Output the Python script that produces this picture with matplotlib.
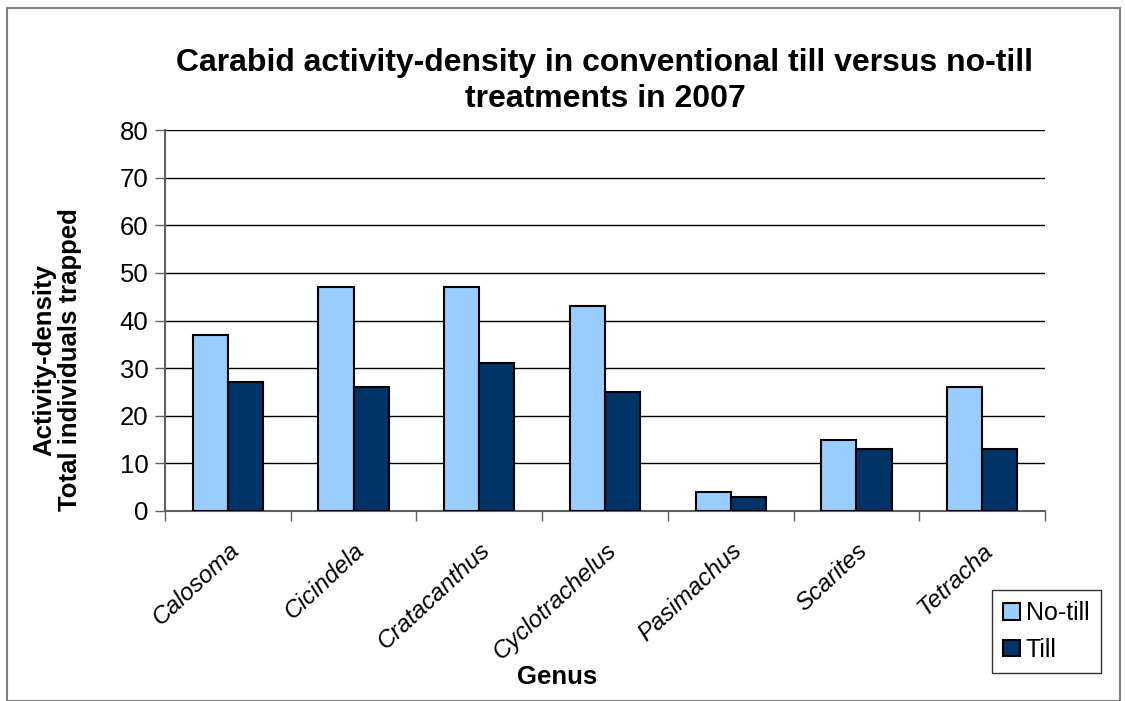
import matplotlib
matplotlib.use("Agg")
import matplotlib.pyplot as plt
import numpy as np
from matplotlib.patches import Rectangle

plt.rcParams['font.family'] = ['Liberation Sans', 'DejaVu Sans']

genera = ["Calosoma", "Cicindela", "Cratacanthus", "Cyclotrachelus",
          "Pasimachus", "Scarites", "Tetracha"]
no_till = [37, 47, 47, 43, 4, 15, 26]
till = [27, 26, 31, 25, 3, 13, 13]
series_names = ["No-till", "Till"]
colors = ["#99CCFF", "#003366"]

fig = plt.figure(figsize=(11.25, 7.01), dpi=100)
ax = fig.add_axes([165/1125, 1-511/701, (1045-165)/1125, (511-130)/701])

x = np.arange(len(genera))
w = 0.28
ax.bar(x - w/2, no_till, w, color=colors[0], edgecolor="black", linewidth=1.5, label=series_names[0], zorder=3)
ax.bar(x + w/2, till, w, color=colors[1], edgecolor="black", linewidth=1.5, label=series_names[1], zorder=3)

ax.set_xlim(-0.5, len(genera) - 0.5)
ax.set_ylim(0, 80)
ax.set_yticks(range(0, 81, 10))
ax.tick_params(axis='y', labelsize=18.5, length=7, width=1, direction='out', pad=5, color="#606060")
ax.yaxis.grid(True, color="black", linewidth=1, zorder=0)
ax.set_axisbelow(True)

ax.set_xticks(np.arange(-0.5, len(genera), 1.0))
ax.set_xticklabels([])
ax.tick_params(axis='x', length=7, width=1, direction='out', color="#606060")
ax.set_xticks(x, minor=True)
ax.set_xticklabels(genera, minor=True, rotation=43, ha='right', rotation_mode='anchor',
                   fontsize=17.5, style='italic')
ax.tick_params(axis='x', which='minor', length=0, pad=20)

for s in ["top", "right"]:
    ax.spines[s].set_visible(False)
for s in ["left", "bottom"]:
    ax.spines[s].set_color("#606060")
    ax.spines[s].set_linewidth(1.5)

fig.text(605/1125, 1-81/701, "Carabid activity-density in conventional till versus no-till\ntreatments in 2007",
         ha='center', va='center', fontsize=23, fontweight='bold', linespacing=1.3)
fig.text(57/1125, 1-360/701, "Activity-density\nTotal individuals trapped", rotation=90,
         ha='center', va='center', fontsize=18.5, fontweight='bold', linespacing=1.1)
fig.text(557/1125, 1-677/701, "Genus", ha='center', va='center', fontsize=18.5, fontweight='bold')

leg = ax.legend(loc='upper left', bbox_to_anchor=(992/1125, 1-590/701), bbox_transform=fig.transFigure,
                fontsize=18, frameon=True, fancybox=False, edgecolor="black",
                handlelength=0.65, handleheight=0.65, handletextpad=0.25, labelspacing=0.5,
                borderpad=0.45, borderaxespad=0)
leg.get_frame().set_linewidth(1)

fig.patches.append(Rectangle((7/1125, 0), 1 - 12/1125, 1 - 8/701, transform=fig.transFigure,
                             fill=False, edgecolor="#808080", linewidth=1.5))

fig.savefig("out.png", dpi=100)
